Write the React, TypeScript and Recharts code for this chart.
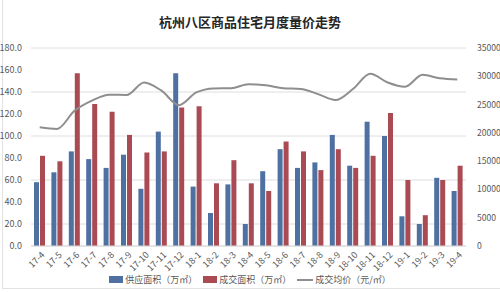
import { ComposedChart, Bar, Line, XAxis, YAxis, CartesianGrid } from 'recharts';

const months = [
  '17-4', '17-5', '17-6', '17-7', '17-8', '17-9', '17-10', '17-11', '17-12',
  '18-1', '18-2', '18-3', '18-4', '18-5', '18-6', '18-7', '18-8', '18-9',
  '18-10', '18-11', '18-12', '19-1', '19-2', '19-3', '19-4',
];

// 供应面积（万㎡）
const supply = [58, 67, 86, 79, 71, 83, 52, 104, 157, 54, 30, 56, 20, 68, 88, 71, 76, 101, 73, 113, 100, 27, 20, 62, 50];
// 成交面积（万㎡）
const deal = [82, 77, 157, 129, 122, 101, 85, 86, 126, 127, 57, 78, 57, 50, 95, 86, 69, 88, 71, 82, 121, 60, 28, 60, 73];
// 成交均价（元/㎡）
const price = [21000, 20700, 23900, 25700, 26750, 26700, 28900, 27450, 24900, 27150, 27850, 27900, 28600, 28400, 27900, 27750, 26850, 25800, 27750, 30450, 28900, 28150, 30250, 29650, 29450];

const leftTicks = [0, 20, 40, 60, 80, 100, 120, 140, 160, 180];
const rightTicks = [0, 5000, 10000, 15000, 20000, 25000, 30000, 35000];

const legendItems = [
  { name: '供应面积（万㎡）', type: 'bar', color: '#4f71a2' },
  { name: '成交面积（万㎡）', type: 'bar', color: '#aa4a52' },
  { name: '成交均价（元/㎡）', type: 'line', color: '#8e8e8e' },
];

const data = months.map((m, i) => ({ month: m, supply: supply[i], deal: deal[i], price: price[i] }));

const BLUE = '#4f71a2';
const RED = '#aa4a52';
const GREY = '#8e8e8e';
const FONT = '"Noto Sans CJK SC", "Noto Sans", sans-serif';

const XTick = (props: any) => {
  const { x, y, payload } = props;
  const ax = x + 3;
  const ay = y - 1;
  return (
    <text
      x={ax}
      y={ay}
      transform={`rotate(-45, ${ax}, ${ay})`}
      textAnchor="end"
      dominantBaseline="central"
      fontSize={9}
      fill="#595959"
      fontFamily={FONT}
    >
      {payload.value}
    </text>
  );
};

export default function App() {
  return (
    <div style={{ position: 'relative', width: 500, height: 292, background: '#fff' }}>
      <style>{'body{margin:0}'}</style>
      <div
        style={{
          position: 'absolute',
          left: 2,
          top: 0,
          width: 497,
          height: 288,
          borderLeft: '1px solid #e2e2e2',
          borderBottom: '1px solid #e2e2e2',
          pointerEvents: 'none',
        }}
      />
      <div
        style={{
          position: 'absolute',
          top: 12,
          left: 0,
          width: 500,
          textAlign: 'center',
          fontSize: 13,
          fontWeight: 700,
          color: '#262626',
          fontFamily: FONT,
        }}
      >
        杭州八区商品住宅月度量价走势
      </div>
      <ComposedChart
        width={500}
        height={292}
        data={data}
        margin={{ top: 48, right: 0, left: 0, bottom: 4 }}
        barGap={1}
        barCategoryGap="36%"
      >
        <CartesianGrid vertical={false} stroke="#dedede" yAxisId="left" />
        <XAxis
          dataKey="month"
          interval={0}
          tick={<XTick />}
          tickLine={false}
          axisLine={{ stroke: '#d9d9d9' }}
          height={42}
        />
        <YAxis
          yAxisId="left"
          domain={[0, 180]}
          ticks={leftTicks}
          tickFormatter={(v: number) => v.toFixed(1)}
          tick={{ fontSize: 9, fill: '#595959', fontFamily: FONT }}
          axisLine={false}
          tickLine={false}
          width={31}
          tickMargin={3}
        />
        <YAxis
          yAxisId="right"
          orientation="right"
          domain={[0, 35000]}
          ticks={rightTicks}
          tick={{ fontSize: 8.6, fill: '#595959', fontFamily: FONT }}
          axisLine={false}
          tickLine={false}
          width={34}
          tickMargin={5}
        />
        <Bar yAxisId="left" dataKey="supply" fill={BLUE} barSize={5} isAnimationActive={false} />
        <Bar yAxisId="left" dataKey="deal" fill={RED} barSize={5} isAnimationActive={false} />
        <Line
          yAxisId="right"
          dataKey="price"
          type="monotone"
          stroke={GREY}
          strokeWidth={2}
          dot={false}
          isAnimationActive={false}
        />
      </ComposedChart>
      <div
        style={{
          position: 'absolute',
          top: 273,
          left: 0,
          width: 500,
          display: 'flex',
          justifyContent: 'center',
          alignItems: 'center',
          fontSize: 9,
          color: '#595959',
          fontFamily: FONT,
          gap: 6,
        }}
      >
        {legendItems.map((it) => (
          <span key={it.name} style={{ display: 'flex', alignItems: 'center' }}>
            <span
              style={{
                width: it.type === 'bar' ? 14 : 16,
                height: it.type === 'bar' ? 7 : 2,
                background: it.color,
                marginRight: 2,
              }}
            />
            {it.name}
          </span>
        ))}
      </div>
    </div>
  );
}
